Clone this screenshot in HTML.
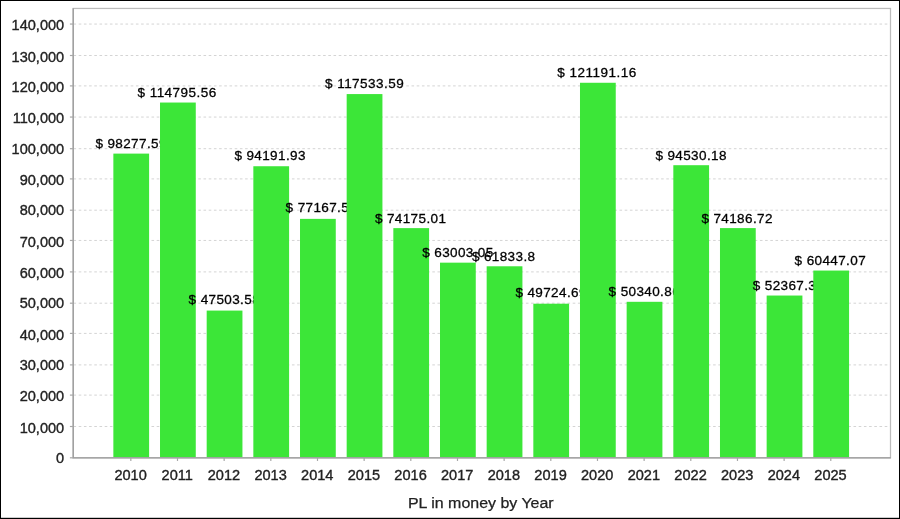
<!DOCTYPE html><html><head><meta charset="utf-8"><title>PL in money by Year</title>
<style>html,body{margin:0;padding:0;background:#fff}svg{display:block}text{font-family:"Liberation Sans",sans-serif}</style></head><body>
<svg width="900" height="519" viewBox="0 0 900 519">
<rect x="0" y="0" width="900" height="519" fill="#fff"/>
<g style="filter:blur(0.3px)">
<line x1="73.50" y1="426.50" x2="890.50" y2="426.50" stroke="#d4d4d4" stroke-width="1.0" stroke-dasharray="2.6 2.6"/>
<line x1="73.50" y1="395.10" x2="890.50" y2="395.10" stroke="#d4d4d4" stroke-width="1.0" stroke-dasharray="2.6 2.6"/>
<line x1="73.50" y1="364.90" x2="890.50" y2="364.90" stroke="#d4d4d4" stroke-width="1.0" stroke-dasharray="2.6 2.6"/>
<line x1="73.50" y1="333.40" x2="890.50" y2="333.40" stroke="#d4d4d4" stroke-width="1.0" stroke-dasharray="2.6 2.6"/>
<line x1="73.50" y1="303.20" x2="890.50" y2="303.20" stroke="#d4d4d4" stroke-width="1.0" stroke-dasharray="2.6 2.6"/>
<line x1="73.50" y1="271.90" x2="890.50" y2="271.90" stroke="#d4d4d4" stroke-width="1.0" stroke-dasharray="2.6 2.6"/>
<line x1="73.50" y1="240.45" x2="890.50" y2="240.45" stroke="#d4d4d4" stroke-width="1.0" stroke-dasharray="2.6 2.6"/>
<line x1="73.50" y1="210.20" x2="890.50" y2="210.20" stroke="#d4d4d4" stroke-width="1.0" stroke-dasharray="2.6 2.6"/>
<line x1="73.50" y1="178.90" x2="890.50" y2="178.90" stroke="#d4d4d4" stroke-width="1.0" stroke-dasharray="2.6 2.6"/>
<line x1="73.50" y1="148.70" x2="890.50" y2="148.70" stroke="#d4d4d4" stroke-width="1.0" stroke-dasharray="2.6 2.6"/>
<line x1="73.50" y1="117.05" x2="890.50" y2="117.05" stroke="#d4d4d4" stroke-width="1.0" stroke-dasharray="2.6 2.6"/>
<line x1="73.50" y1="85.90" x2="890.50" y2="85.90" stroke="#d4d4d4" stroke-width="1.0" stroke-dasharray="2.6 2.6"/>
<line x1="73.50" y1="55.50" x2="890.50" y2="55.50" stroke="#d4d4d4" stroke-width="1.0" stroke-dasharray="2.6 2.6"/>
<line x1="73.50" y1="24.05" x2="890.50" y2="24.05" stroke="#d4d4d4" stroke-width="1.0" stroke-dasharray="2.6 2.6"/>
<rect x="113.35" y="153.61" width="35.76" height="304.19" fill="#3ce638"/>
<text x="95.40" y="148.05" font-size="13.5" textLength="71.06" lengthAdjust="spacing" fill="#000" stroke="#000" stroke-width="0.3">$ 98277.59</text>
<rect x="160.01" y="102.54" width="35.76" height="355.26" fill="#3ce638"/>
<text x="137.40" y="96.95" font-size="13.5" textLength="78.95" lengthAdjust="spacing" fill="#000" stroke="#000" stroke-width="0.3">$ 114795.56</text>
<rect x="206.68" y="310.58" width="35.76" height="147.22" fill="#3ce638"/>
<text x="188.60" y="304.05" font-size="13.5" textLength="71.06" lengthAdjust="spacing" fill="#000" stroke="#000" stroke-width="0.3">$ 47503.58</text>
<rect x="253.34" y="166.24" width="35.76" height="291.56" fill="#3ce638"/>
<text x="234.40" y="160.05" font-size="13.5" textLength="71.06" lengthAdjust="spacing" fill="#000" stroke="#000" stroke-width="0.3">$ 94191.93</text>
<rect x="300.01" y="218.87" width="35.76" height="238.93" fill="#3ce638"/>
<text x="285.60" y="212.25" font-size="13.5" textLength="63.16" lengthAdjust="spacing" fill="#000" stroke="#000" stroke-width="0.3">$ 77167.5</text>
<rect x="346.67" y="94.08" width="35.76" height="363.72" fill="#3ce638"/>
<text x="324.90" y="87.75" font-size="13.5" textLength="78.95" lengthAdjust="spacing" fill="#000" stroke="#000" stroke-width="0.3">$ 117533.59</text>
<rect x="393.33" y="228.12" width="35.76" height="229.68" fill="#3ce638"/>
<text x="374.90" y="222.75" font-size="13.5" textLength="71.06" lengthAdjust="spacing" fill="#000" stroke="#000" stroke-width="0.3">$ 74175.01</text>
<rect x="440.00" y="262.66" width="35.76" height="195.14" fill="#3ce638"/>
<text x="422.20" y="256.75" font-size="13.5" textLength="71.06" lengthAdjust="spacing" fill="#000" stroke="#000" stroke-width="0.3">$ 63003.05</text>
<rect x="486.66" y="266.28" width="35.76" height="191.52" fill="#3ce638"/>
<text x="471.90" y="260.75" font-size="13.5" textLength="63.16" lengthAdjust="spacing" fill="#000" stroke="#000" stroke-width="0.3">$ 61833.8</text>
<rect x="533.33" y="303.71" width="35.76" height="154.09" fill="#3ce638"/>
<text x="515.40" y="297.45" font-size="13.5" textLength="71.06" lengthAdjust="spacing" fill="#000" stroke="#000" stroke-width="0.3">$ 49724.69</text>
<rect x="579.99" y="82.77" width="35.76" height="375.03" fill="#3ce638"/>
<text x="557.20" y="77.40" font-size="13.5" textLength="78.95" lengthAdjust="spacing" fill="#000" stroke="#000" stroke-width="0.3">$ 121191.16</text>
<rect x="626.65" y="301.81" width="35.76" height="155.99" fill="#3ce638"/>
<text x="608.60" y="296.05" font-size="13.5" textLength="71.06" lengthAdjust="spacing" fill="#000" stroke="#000" stroke-width="0.3">$ 50340.86</text>
<rect x="673.32" y="165.20" width="35.76" height="292.60" fill="#3ce638"/>
<text x="655.40" y="159.75" font-size="13.5" textLength="71.06" lengthAdjust="spacing" fill="#000" stroke="#000" stroke-width="0.3">$ 94530.18</text>
<rect x="719.98" y="228.09" width="35.76" height="229.71" fill="#3ce638"/>
<text x="701.40" y="222.55" font-size="13.5" textLength="71.06" lengthAdjust="spacing" fill="#000" stroke="#000" stroke-width="0.3">$ 74186.72</text>
<rect x="766.65" y="295.54" width="35.76" height="162.26" fill="#3ce638"/>
<text x="752.70" y="289.75" font-size="13.5" textLength="63.16" lengthAdjust="spacing" fill="#000" stroke="#000" stroke-width="0.3">$ 52367.3</text>
<rect x="813.31" y="270.56" width="35.76" height="187.24" fill="#3ce638"/>
<text x="794.60" y="265.05" font-size="13.5" textLength="71.06" lengthAdjust="spacing" fill="#000" stroke="#000" stroke-width="0.3">$ 60447.07</text>
<rect x="73.20" y="8.45" width="817.30" height="449.35" fill="none" stroke="#bcbcbc" stroke-width="1.25"/>
<path d="M73.20 8.15V457.80H890.80" fill="none" stroke="#9c9c9c" stroke-width="1.3"/>
<line x1="69.90" y1="457.80" x2="73.20" y2="457.80" stroke="#a8a8a8" stroke-width="1.2"/>
<text x="64.2" y="462.60" font-size="14.55" text-anchor="end" fill="#222" stroke="#222" stroke-width="0.36">0</text>
<line x1="69.90" y1="426.50" x2="73.20" y2="426.50" stroke="#a8a8a8" stroke-width="1.2"/>
<text x="64.2" y="432.50" font-size="14.55" text-anchor="end" fill="#222" stroke="#222" stroke-width="0.36">10,000</text>
<line x1="69.90" y1="395.10" x2="73.20" y2="395.10" stroke="#a8a8a8" stroke-width="1.2"/>
<text x="64.2" y="401.10" font-size="14.55" text-anchor="end" fill="#222" stroke="#222" stroke-width="0.36">20,000</text>
<line x1="69.90" y1="364.90" x2="73.20" y2="364.90" stroke="#a8a8a8" stroke-width="1.2"/>
<text x="64.2" y="369.60" font-size="14.55" text-anchor="end" fill="#222" stroke="#222" stroke-width="0.36">30,000</text>
<line x1="69.90" y1="333.40" x2="73.20" y2="333.40" stroke="#a8a8a8" stroke-width="1.2"/>
<text x="64.2" y="339.60" font-size="14.55" text-anchor="end" fill="#222" stroke="#222" stroke-width="0.36">40,000</text>
<line x1="69.90" y1="303.20" x2="73.20" y2="303.20" stroke="#a8a8a8" stroke-width="1.2"/>
<text x="64.2" y="307.80" font-size="14.55" text-anchor="end" fill="#222" stroke="#222" stroke-width="0.36">50,000</text>
<line x1="69.90" y1="271.90" x2="73.20" y2="271.90" stroke="#a8a8a8" stroke-width="1.2"/>
<text x="64.2" y="277.80" font-size="14.55" text-anchor="end" fill="#222" stroke="#222" stroke-width="0.36">60,000</text>
<line x1="69.90" y1="240.45" x2="73.20" y2="240.45" stroke="#a8a8a8" stroke-width="1.2"/>
<text x="64.2" y="246.50" font-size="14.55" text-anchor="end" fill="#222" stroke="#222" stroke-width="0.36">70,000</text>
<line x1="69.90" y1="210.20" x2="73.20" y2="210.20" stroke="#a8a8a8" stroke-width="1.2"/>
<text x="64.2" y="215.30" font-size="14.55" text-anchor="end" fill="#222" stroke="#222" stroke-width="0.36">80,000</text>
<line x1="69.90" y1="178.90" x2="73.20" y2="178.90" stroke="#a8a8a8" stroke-width="1.2"/>
<text x="64.2" y="184.80" font-size="14.55" text-anchor="end" fill="#222" stroke="#222" stroke-width="0.36">90,000</text>
<line x1="69.90" y1="148.70" x2="73.20" y2="148.70" stroke="#a8a8a8" stroke-width="1.2"/>
<text x="64.2" y="153.60" font-size="14.55" text-anchor="end" fill="#222" stroke="#222" stroke-width="0.36">100,000</text>
<line x1="69.90" y1="117.05" x2="73.20" y2="117.05" stroke="#a8a8a8" stroke-width="1.2"/>
<text x="64.2" y="123.00" font-size="14.55" text-anchor="end" fill="#222" stroke="#222" stroke-width="0.36">110,000</text>
<line x1="69.90" y1="85.90" x2="73.20" y2="85.90" stroke="#a8a8a8" stroke-width="1.2"/>
<text x="64.2" y="91.90" font-size="14.55" text-anchor="end" fill="#222" stroke="#222" stroke-width="0.36">120,000</text>
<line x1="69.90" y1="55.50" x2="73.20" y2="55.50" stroke="#a8a8a8" stroke-width="1.2"/>
<text x="64.2" y="61.50" font-size="14.55" text-anchor="end" fill="#222" stroke="#222" stroke-width="0.36">130,000</text>
<line x1="69.90" y1="24.05" x2="73.20" y2="24.05" stroke="#a8a8a8" stroke-width="1.2"/>
<text x="64.2" y="30.20" font-size="14.55" text-anchor="end" fill="#222" stroke="#222" stroke-width="0.36">140,000</text>
<line x1="130.83" y1="457.80" x2="130.83" y2="461.00" stroke="#a8a8a8" stroke-width="1.2"/>
<text x="130.58" y="479.7" font-size="14.55" text-anchor="middle" fill="#222" stroke="#222" stroke-width="0.36">2010</text>
<line x1="177.49" y1="457.80" x2="177.49" y2="461.00" stroke="#a8a8a8" stroke-width="1.2"/>
<text x="177.24" y="479.7" font-size="14.55" text-anchor="middle" fill="#222" stroke="#222" stroke-width="0.36">2011</text>
<line x1="224.16" y1="457.80" x2="224.16" y2="461.00" stroke="#a8a8a8" stroke-width="1.2"/>
<text x="223.91" y="479.7" font-size="14.55" text-anchor="middle" fill="#222" stroke="#222" stroke-width="0.36">2012</text>
<line x1="270.82" y1="457.80" x2="270.82" y2="461.00" stroke="#a8a8a8" stroke-width="1.2"/>
<text x="270.57" y="479.7" font-size="14.55" text-anchor="middle" fill="#222" stroke="#222" stroke-width="0.36">2013</text>
<line x1="317.49" y1="457.80" x2="317.49" y2="461.00" stroke="#a8a8a8" stroke-width="1.2"/>
<text x="317.24" y="479.7" font-size="14.55" text-anchor="middle" fill="#222" stroke="#222" stroke-width="0.36">2014</text>
<line x1="364.15" y1="457.80" x2="364.15" y2="461.00" stroke="#a8a8a8" stroke-width="1.2"/>
<text x="363.90" y="479.7" font-size="14.55" text-anchor="middle" fill="#222" stroke="#222" stroke-width="0.36">2015</text>
<line x1="410.81" y1="457.80" x2="410.81" y2="461.00" stroke="#a8a8a8" stroke-width="1.2"/>
<text x="410.56" y="479.7" font-size="14.55" text-anchor="middle" fill="#222" stroke="#222" stroke-width="0.36">2016</text>
<line x1="457.48" y1="457.80" x2="457.48" y2="461.00" stroke="#a8a8a8" stroke-width="1.2"/>
<text x="457.23" y="479.7" font-size="14.55" text-anchor="middle" fill="#222" stroke="#222" stroke-width="0.36">2017</text>
<line x1="504.14" y1="457.80" x2="504.14" y2="461.00" stroke="#a8a8a8" stroke-width="1.2"/>
<text x="503.89" y="479.7" font-size="14.55" text-anchor="middle" fill="#222" stroke="#222" stroke-width="0.36">2018</text>
<line x1="550.81" y1="457.80" x2="550.81" y2="461.00" stroke="#a8a8a8" stroke-width="1.2"/>
<text x="550.56" y="479.7" font-size="14.55" text-anchor="middle" fill="#222" stroke="#222" stroke-width="0.36">2019</text>
<line x1="597.47" y1="457.80" x2="597.47" y2="461.00" stroke="#a8a8a8" stroke-width="1.2"/>
<text x="597.22" y="479.7" font-size="14.55" text-anchor="middle" fill="#222" stroke="#222" stroke-width="0.36">2020</text>
<line x1="644.13" y1="457.80" x2="644.13" y2="461.00" stroke="#a8a8a8" stroke-width="1.2"/>
<text x="643.88" y="479.7" font-size="14.55" text-anchor="middle" fill="#222" stroke="#222" stroke-width="0.36">2021</text>
<line x1="690.80" y1="457.80" x2="690.80" y2="461.00" stroke="#a8a8a8" stroke-width="1.2"/>
<text x="690.55" y="479.7" font-size="14.55" text-anchor="middle" fill="#222" stroke="#222" stroke-width="0.36">2022</text>
<line x1="737.46" y1="457.80" x2="737.46" y2="461.00" stroke="#a8a8a8" stroke-width="1.2"/>
<text x="737.21" y="479.7" font-size="14.55" text-anchor="middle" fill="#222" stroke="#222" stroke-width="0.36">2023</text>
<line x1="784.13" y1="457.80" x2="784.13" y2="461.00" stroke="#a8a8a8" stroke-width="1.2"/>
<text x="783.88" y="479.7" font-size="14.55" text-anchor="middle" fill="#222" stroke="#222" stroke-width="0.36">2024</text>
<line x1="830.79" y1="457.80" x2="830.79" y2="461.00" stroke="#a8a8a8" stroke-width="1.2"/>
<text x="830.54" y="479.7" font-size="14.55" text-anchor="middle" fill="#222" stroke="#222" stroke-width="0.36">2025</text>
<text x="407.9" y="507.6" font-size="14.7" textLength="145.8" lengthAdjust="spacingAndGlyphs" fill="#222" stroke="#222" stroke-width="0.25">PL in money by Year</text>
</g>
<rect x="0" y="0" width="900" height="1" fill="#000"/>
<rect x="0" y="0" width="1" height="519" fill="#000"/>
<rect x="899" y="0" width="1" height="519" fill="#000"/>
<rect x="0" y="517.8" width="900" height="1.2" fill="#000"/>
</svg></body></html>
